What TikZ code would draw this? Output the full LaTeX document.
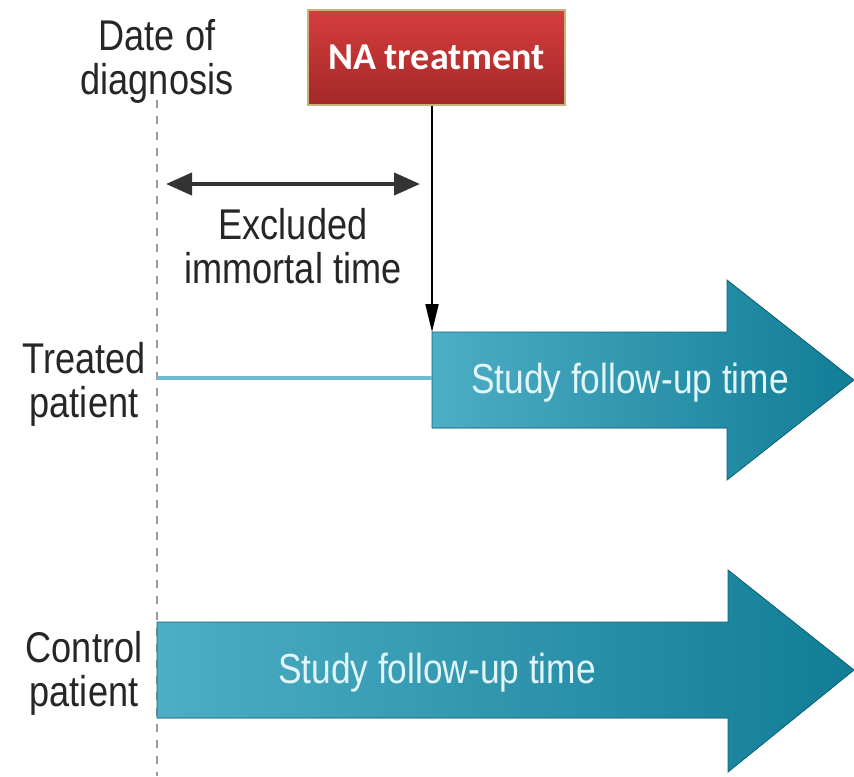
\documentclass[tikz,border=0pt]{standalone}
\usepackage{fontspec}
\setmainfont{Liberation Sans}[FakeStretch=0.84]
\newfontfamily\boxfont{Carlito}
\usetikzlibrary{arrows.meta,positioning}
\definecolor{naRedTop}{HTML}{D63D3D}
\definecolor{naRedBot}{HTML}{A32828}
\definecolor{naEdge}{HTML}{C9B27A}
\definecolor{fuLight}{HTML}{4DAEC5}
\definecolor{fuDark}{HTML}{117D96}
\definecolor{fuText}{HTML}{E2F5F8}
\definecolor{lineBlue}{HTML}{6FBCCF}
\definecolor{darkLine}{HTML}{333333}
\tikzset{
  label text/.style={align=center, font=\fontsize{21.5}{23}\selectfont, text=black!85, inner sep=0pt},
  follow text/.style={font=\fontsize{21}{24}\selectfont, text=fuText, inner sep=0pt},
  follow arrow/.style={left color=fuLight, right color=fuDark, draw=fuDark!80!black, line width=0.4pt},
}
\begin{document}
\begin{tikzpicture}[x=0.5pt, y=-0.5pt]
    \useasboundingbox (0,0) rectangle (854,776);
    % date of diagnosis
    \draw[gray!80, line width=1pt, dash pattern=on 4pt off 4pt] (157,100) -- (157,776);
    \node[label text] (diag) at (157,61) {Date of\\[-1pt]diagnosis};
    % treatment box
    \node[draw=naEdge, line width=0.6pt, top color=naRedTop, bottom color=naRedBot,
          minimum width=128.5pt, minimum height=47.5pt, text=white,
          font=\boxfont\bfseries\fontsize{19}{22}\selectfont] (na) at (436.5,57.5) {NA treatment};
    % excluded immortal time
    \coordinate (ex1) at (166,184);
    \coordinate (ex2) at (420,184);
    \draw[darkLine, line width=2pt, {Triangle[length=13pt,width=11pt]}-{Triangle[length=13pt,width=11pt]}] (ex1) -- (ex2);
    \node[label text] (excl) at (293,246) {Excluded\\[-1pt]immortal time};
    % treated patient
    \fill[follow arrow] (432,332) -- (727,332) -- (727,280) -- (854,380) -- (727,480) -- (727,428) -- (432,428) -- cycle;
    \coordinate (tstart) at (432,332);
    \draw[line width=1pt, -{Triangle[length=14pt,width=6.5pt]}] (na.south -| tstart) -- (tstart);
    \coordinate (tline) at (157,378);
    \draw[lineBlue, line width=1.6pt] (tline) -- (432,378);
    \node[follow text] (fu1) at (630,383) {Study follow-up time};
    \node[label text] (treated) at (84,384) {Treated\\[-1pt]patient};
    % control patient
    \fill[follow arrow] (157,622) -- (728,622) -- (728,570) -- (854,670) -- (728,772) -- (728,718) -- (157,718) -- cycle;
    \node[follow text] (fu2) at (437,673) {Study follow-up time};
    \node[label text] (control) at (84,673) {Control\\[-1pt]patient};
\end{tikzpicture}
\end{document}
